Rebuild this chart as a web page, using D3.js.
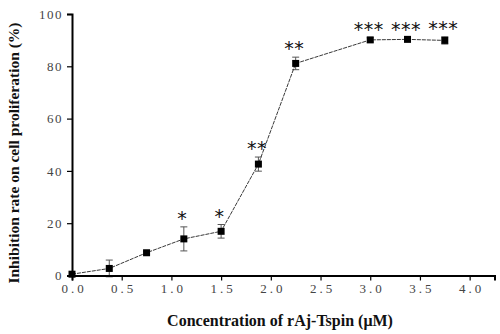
<!DOCTYPE html>
<html><head><meta charset="utf-8">
<script src="https://cdn.jsdelivr.net/npm/d3@7"></script>
<style>body{margin:0;background:#fff}svg{display:block}</style>
</head><body>
<script>
const conc = [0, 0.375, 0.75, 1.125, 1.5, 1.875, 2.25, 3.0, 3.375, 3.75];
const inhibition = [0.5, 2.7, 8.7, 14.0, 16.9, 42.6, 81.1, 90.1, 90.3, 89.9];
const errors = [0, 3.2, 0.6, 4.6, 2.6, 2.7, 2.4, 0.8, 0.6, 1.4];
const stars = ["", "", "", "*", "*", "**", "**", "***", "***", "***"];
const xTicks = [0, 0.5, 1.0, 1.5, 2.0, 2.5, 3.0, 3.5, 4.0];
const yTicks = [0, 20, 40, 60, 80, 100];

const W = 500, H = 334;
const svg = d3.select("body").append("svg").attr("width", W).attr("height", H);
const x = d3.scaleLinear().domain([0, 4.25]).range([72, 494.5]);
const y = d3.scaleLinear().domain([0, 100]).range([275.5, 14]);

const serif = "'Liberation Serif','DejaVu Serif',serif";

// error bars
const eb = svg.append("g").attr("stroke", "#555").attr("stroke-width", 1);
conc.forEach((c, i) => {
  if (!errors[i]) return;
  const cx = x(c), y1 = y(inhibition[i] + errors[i]), y2 = y(inhibition[i] - errors[i]);
  eb.append("line").attr("x1", cx).attr("x2", cx).attr("y1", y1).attr("y2", y2);
  eb.append("line").attr("x1", cx - 3.5).attr("x2", cx + 3.5).attr("y1", y1).attr("y2", y1);
  eb.append("line").attr("x1", cx - 3.5).attr("x2", cx + 3.5).attr("y1", y2).attr("y2", y2);
});

// line
svg.append("path")
  .datum(conc.map((c, i) => [c, inhibition[i]]))
  .attr("fill", "none").attr("stroke", "#222").attr("stroke-width", 0.9)
  .attr("stroke-dasharray", "4,1")
  .attr("d", d3.line().x(d => x(d[0])).y(d => y(d[1])));

// markers
svg.append("g").selectAll("rect").data(conc).join("rect")
  .attr("x", (d) => x(d) - 3.5).attr("y", (d, i) => y(inhibition[i]) - 3.5)
  .attr("width", 7).attr("height", 7).attr("fill", "#000");

// stars
svg.append("g").selectAll("text").data(conc).join("text")
  .attr("x", d => x(d) - 1.5)
  .attr("y", (d, i) => y(inhibition[i] + errors[i]) - 2)
  .attr("text-anchor", "middle")
  .attr("font-family", "'DejaVu Sans',sans-serif").attr("font-size", 19)
  .attr("letter-spacing", 0.5).attr("fill", "#111")
  .text((d, i) => stars[i]);

// axes
const xAxis = svg.append("g").attr("transform", `translate(0,${y(0)})`);
xAxis.call(d3.axisBottom(x).tickValues(d3.range(0, 4.26, 0.25)).tickSize(3).tickFormat(""));
xAxis.call(d3.axisBottom(x).tickValues(xTicks).tickSize(5).tickFormat(d3.format(".1f")));
const yAxis = svg.append("g").attr("transform", `translate(${x(0)},0)`);
yAxis.call(d3.axisLeft(y).tickValues(d3.range(10, 100, 20)).tickSize(3).tickFormat(""));
yAxis.call(d3.axisLeft(y).tickValues(yTicks).tickSize(5).tickFormat(d3.format("d")));

svg.selectAll(".domain").attr("stroke", "#000").attr("stroke-width", 2);
svg.selectAll(".tick line").attr("stroke", "#000").attr("stroke-width", 1.2);
xAxis.selectAll("text").attr("font-family", serif).attr("font-size", 13)
  .attr("letter-spacing", 3).attr("fill", "#444").attr("dy", "0.75em").attr("dx", 1.5);
yAxis.selectAll("text").attr("font-family", serif).attr("font-size", 13)
  .attr("letter-spacing", 1.5).attr("fill", "#444").attr("dx", -1);

// titles
svg.append("text").attr("x", 280).attr("y", 326).attr("text-anchor", "middle")
  .attr("font-family", serif).attr("font-weight", "bold").attr("font-size", 16)
  .attr("fill", "#111").text("Concentration of rAj-Tspin (μM)");
svg.append("text").attr("transform", "translate(19,153) rotate(-90)").attr("text-anchor", "middle")
  .attr("font-family", serif).attr("font-weight", "bold").attr("font-size", 15.5)
  .attr("fill", "#111").text("Inhibition rate on cell proliferation (%)");
</script>
</body></html>
